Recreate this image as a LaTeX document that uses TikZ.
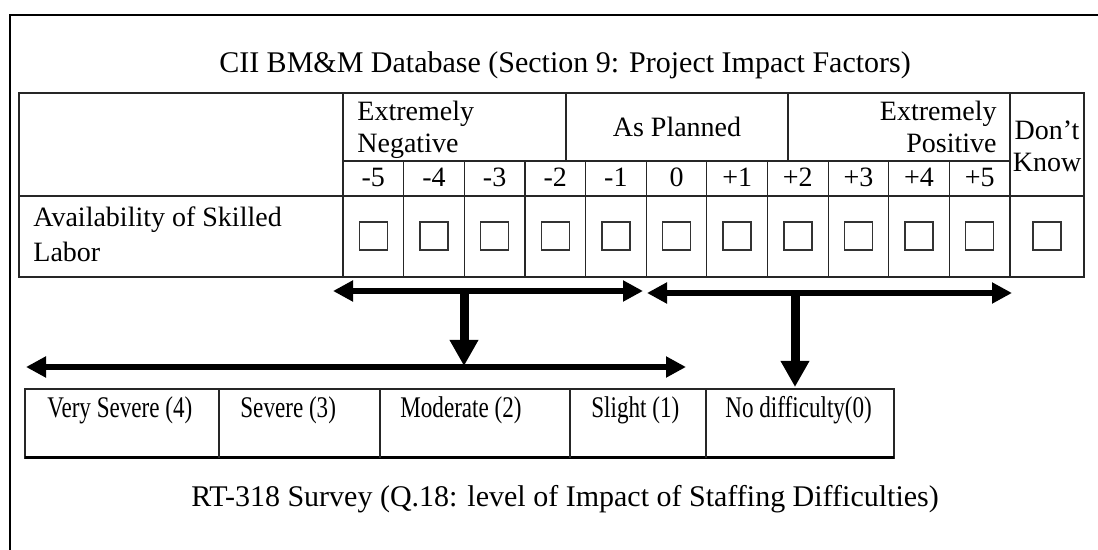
\documentclass[tikz,border=0pt]{standalone}
\usepackage{fontspec}
\setmainfont{Liberation Serif}
\newfontfamily\narrowserif{Liberation Serif}[FakeStretch=0.77]
\usetikzlibrary{arrows.meta,positioning,calc}

\tikzset{
  gridline/.style={line width=0.6pt, draw=black!85},
  tabletext/.style={inner sep=0pt, font=\fontsize{14}{17}\selectfont},
  headtext/.style={inner sep=0pt, font=\fontsize{15}{18}\selectfont},
  scaletext/.style={inner sep=0pt, font=\narrowserif\fontsize{15}{18}\selectfont},
  tickbox/.style={draw=black!80, line width=0.7pt, minimum size=14pt, inner sep=0pt},
  hbar/.style={line width=3pt, >={Triangle[length=10pt,width=10pt]}, <->},
  vbar/.style={line width=4.5pt, -{Triangle[length=13pt,width=13.5pt]}}
}

\begin{document}
\begin{tikzpicture}[x=0.5pt,y=-0.5pt]
    \useasboundingbox (0,0) rectangle (1098,550);

    % outer frame
    \draw[line width=1pt] (10,570) -- (10,15) -- (1120,15);

    % top title
    \node[headtext, anchor=base] (ciititle) at (565,73) {CII BM\&M Database (Section 9: Project Impact Factors)};

    % table lines
    \draw[gridline, line width=0.9pt] (19,93) rectangle (1084,277);
    \draw[gridline] (343,93) -- (343,277);
    \draw[gridline] (1010,93) -- (1010,277);
    \draw[gridline] (343,161) -- (1010,161);
    \draw[gridline] (19,196) -- (1084,196);
    \draw[gridline] (566,93) -- (566,161);
    \draw[gridline] (788,93) -- (788,161);
    \foreach \i in {1,...,10}
        \draw[gridline] ({343+\i*60.64},161) -- ({343+\i*60.64},277);

    % header texts
    \node[tabletext, anchor=base west] (negA) at (357,121) {Extremely};
    \node[tabletext, anchor=base west] (negB) at (357,153) {Negative};
    \node[tabletext, anchor=base] (planned) at (677,137) {As Planned};
    \node[tabletext, anchor=base east] (posA) at (997,121) {Extremely};
    \node[tabletext, anchor=base east] (posB) at (997,153) {Positive};
    \node[tabletext, anchor=base] (dkA) at (1047,140) {Don’t};
    \node[tabletext, anchor=base] (dkB) at (1047,172) {Know};

    % scale values and tick boxes
    \foreach \lab [count=\i] in {-5,-4,-3,-2,-1,0,+1,+2,+3,+4,+5} {
        \node[tabletext, anchor=base] (num\i) at ({343+(\i-0.5)*60.64},187) {\lab};
        \node[tickbox] (box\i) at ({343+(\i-0.5)*60.64},236) {};
    }
    \node[tickbox] (boxdk) at (1047,236) {};

    % row label
    \node[tabletext, anchor=base west] (rowA) at (33,227) {Availability of Skilled};
    \node[tabletext, anchor=base west] (rowB) at (33,262) {Labor};

    % arrows
    \coordinate (negL) at (333,291);
    \coordinate (negR) at (643,291);
    \coordinate (posL) at (647,293);
    \coordinate (posR) at (1012,293);
    \coordinate (lowL) at (26,367);
    \coordinate (lowR) at (686,367);
    \coordinate (negDrop) at (464,291);
    \coordinate (negHit) at (464,366);
    \coordinate (posDrop) at (795,293);
    \coordinate (posHit) at (795,387);

    \draw[hbar] (negL) -- (negR);
    \draw[hbar] (posL) -- (posR);
    \draw[hbar] (lowL) -- (lowR);
    \draw[vbar] (negDrop) -- (negHit);
    \draw[vbar] (posDrop) -- (posHit);

    % survey scale box
    \draw[gridline] (25,389) rectangle (894,458);
    \draw[line width=1.5pt] (25,458) -- (894,458);
    \foreach \xd in {219,380,570,706}
        \draw[gridline] (\xd,389) -- (\xd,458);

    \node[scaletext, anchor=base west] (vsevere) at (47,418) {Very Severe (4)};
    \node[scaletext, anchor=base west] (severe) at (240,418) {Severe (3)};
    \node[scaletext, anchor=base west] (moderate) at (400,418) {Moderate (2)};
    \node[scaletext, anchor=base west] (slight) at (591,418) {Slight (1)};
    \node[scaletext, anchor=base west] (nodiff) at (725,418) {No difficulty(0)};

    % bottom title
    \node[headtext, anchor=base] (rttitle) at (565,507) {RT-318 Survey (Q.18: level of Impact of Staffing Difficulties)};

\end{tikzpicture}
\end{document}
